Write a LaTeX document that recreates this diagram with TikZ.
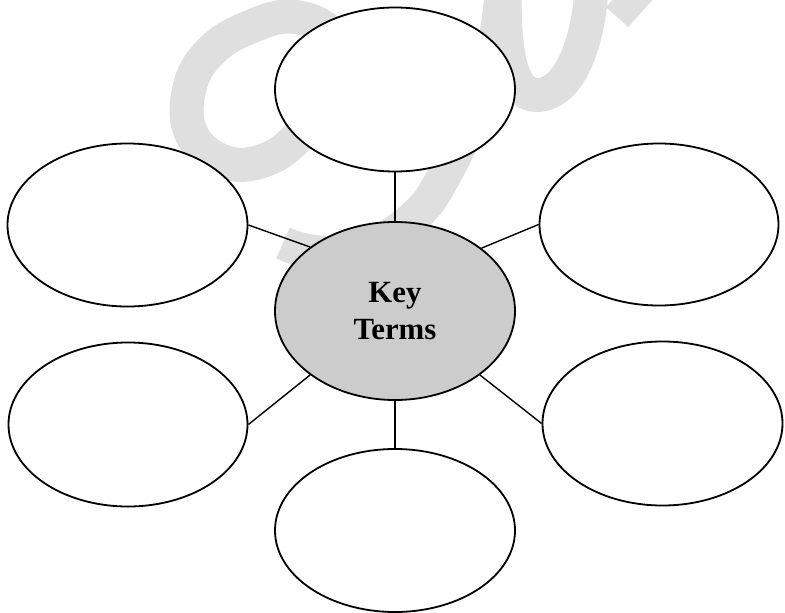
\documentclass[tikz,border=0pt]{standalone}
\usepackage{fontspec}
\setmainfont{Liberation Serif}
\usetikzlibrary{shapes.geometric}
\definecolor{wmgray}{RGB}{223,223,223}
\definecolor{hubgray}{RGB}{204,204,204}
\begin{document}
\begin{tikzpicture}[x=1pt,y=-1pt,
  bubble/.style={draw=black, line width=1.8pt, fill=white, ellipse, inner sep=0pt,
                 minimum width=240pt, minimum height=164pt},
  hub/.style={bubble, fill=hubgray, minimum height=178pt,
              font=\fontsize{30.8}{37}\selectfont\bfseries, align=center},
  link/.style={draw=black, line width=1.4pt},
  wm/.style={draw=wmgray, line width=34pt, line cap=butt}]
\useasboundingbox (0,0) rectangle (785,613);
\clip (0,0) rectangle (785,613);
% faint watermark strokes
\draw[wm] plot[smooth cycle, tension=0.7] coordinates
  {(296,17) (250,27) (210,52) (189,90) (192,135) (225,162) (265,160) (300,135) (335,90) (335,40)};
\draw[wm] (502,-20) .. controls (500,60) and (470,135) .. (430,200)
          .. controls (390,250) and (330,265) .. (283,243);
\draw[wm] (505,-20) .. controls (503,50) and (510,95) .. (537,95)
          .. controls (570,95) and (590,40) .. (592,-20);
\draw[wm, line width=30pt] (650,-20) -- (617,17);
% bubbles
\node[bubble] (top) at (395,89.5) {};
\node[bubble, minimum height=163pt] (lu) at (127.5,225) {};
\node[bubble, minimum width=239pt, minimum height=162pt] (ru) at (659,224.5) {};
\node[hub] (c) at (395,311) {Key\\Terms};
\node[bubble, minimum width=239pt] (ll) at (128,424.5) {};
\node[bubble] (rl) at (662.5,423.5) {};
\node[bubble, minimum height=163pt] (bot) at (395,530.5) {};
% connectors
\draw[link] (top.south) -- (c.north);
\draw[link] (c.south) -- (bot.north);
\draw[link] (lu.east) -- (c.143);
\draw[link] (ru.west) -- (c.36);
\draw[link] (ll.east) -- (c.217);
\draw[link] (rl.west) -- (c.323);
\end{tikzpicture}
\end{document}
